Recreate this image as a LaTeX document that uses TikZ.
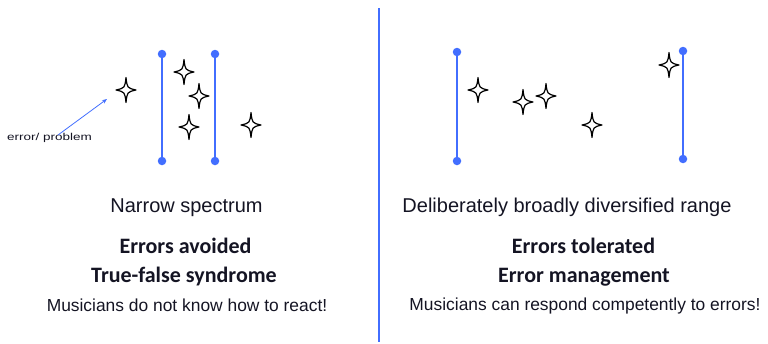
\documentclass[tikz,border=0pt]{standalone}
\usepackage{fontspec}
\usetikzlibrary{arrows.meta}
\setmainfont{Liberation Sans}
\newfontfamily\calib{Carlito}
\newfontfamily\widesans[FakeStretch=1.35]{Liberation Sans}
\definecolor{lblue}{RGB}{66,110,255}
\definecolor{txt}{RGB}{20,20,35}
\tikzset{
  bar/.style={draw=lblue, line width=1.6pt},
  dot/.style={circle, fill=lblue, inner sep=0pt, minimum size=8.5pt},
  plain/.style={text=txt, font=\fontsize{20}{22}\selectfont, inner sep=0pt, anchor=base},
  boldc/.style={text=txt, font=\calib\bfseries\fontsize{22}{24}\selectfont, inner sep=0pt, anchor=base},
  small/.style={text=txt, font=\fontsize{17.4}{19}\selectfont, inner sep=0pt, anchor=base},
  tiny/.style={text=txt, font=\widesans\fontsize{10}{12}\selectfont, inner sep=0pt},
  pics/sparkle/.style={code={
    \draw[fill=white, line width=1.2pt, line join=round]
      (0,-12.5) .. controls (1.2,-2) .. (10,0)
      .. controls (1.2,2) .. (0,12.5)
      .. controls (-1.2,2) .. (-10,0)
      .. controls (-1.2,-2) .. cycle;
  }}
}
\begin{document}
\begin{tikzpicture}[x=1pt,y=-1pt]
\useasboundingbox (0,0) rectangle (768,343);
% separator
\coordinate (sepT) at (379,8);
\coordinate (sepB) at (379,342);
\draw[draw=lblue, line width=1.2pt] (sepT) -- (sepB);
% left bars
\node[dot] (l1t) at (162,54) {};
\node[dot] (l1b) at (162,161) {};
\node[dot] (l2t) at (215,54) {};
\node[dot] (l2b) at (215,161) {};
\draw[bar] (l1t.center) -- (l1b.center);
\draw[bar] (l2t.center) -- (l2b.center);
% right bars
\node[dot] (r1t) at (457,52) {};
\node[dot] (r1b) at (457,161) {};
\node[dot] (r2t) at (683,51) {};
\node[dot] (r2b) at (683,159) {};
\draw[bar] (r1t.center) -- (r1b.center);
\draw[bar] (r2t.center) -- (r2b.center);
% stars left
\pic at (126,90) {sparkle};
\pic at (184,72) {sparkle};
\pic at (199,96) {sparkle};
\pic at (189,127) {sparkle};
\pic at (251,125) {sparkle};
% stars right
\pic at (478,90) {sparkle};
\pic at (523,102) {sparkle};
\pic at (546,96) {sparkle};
\pic at (592,125) {sparkle};
\pic at (669,65) {sparkle};
% arrow
\node[tiny, anchor=base west] (err) at (7,140) {error/ problem};
\coordinate (errS) at (58,135);
\coordinate (errE) at (107,99);
\draw[draw=lblue, line width=0.8pt, -{Stealth[length=5pt,width=4pt]}] (errS) -- (errE);
% left texts
\node[plain] (ln) at (186.5,212) {Narrow spectrum};
\node[boldc] (la) at (185.5,253) {Errors avoided};
\node[boldc, anchor=base east] (ls) at (277,282) {True-false syndrome};
\node[small] (lm) at (187,311) {Musicians do not know how to react!};
% right texts
\node[plain] (rn) at (567,212) {Deliberately broadly diversified range};
\node[boldc] (ra) at (583.5,253) {Errors tolerated};
\node[boldc] (rs) at (584,282) {Error management};
\node[small] (rm) at (585,310) {Musicians can respond competently to errors!};
\end{tikzpicture}
\end{document}
